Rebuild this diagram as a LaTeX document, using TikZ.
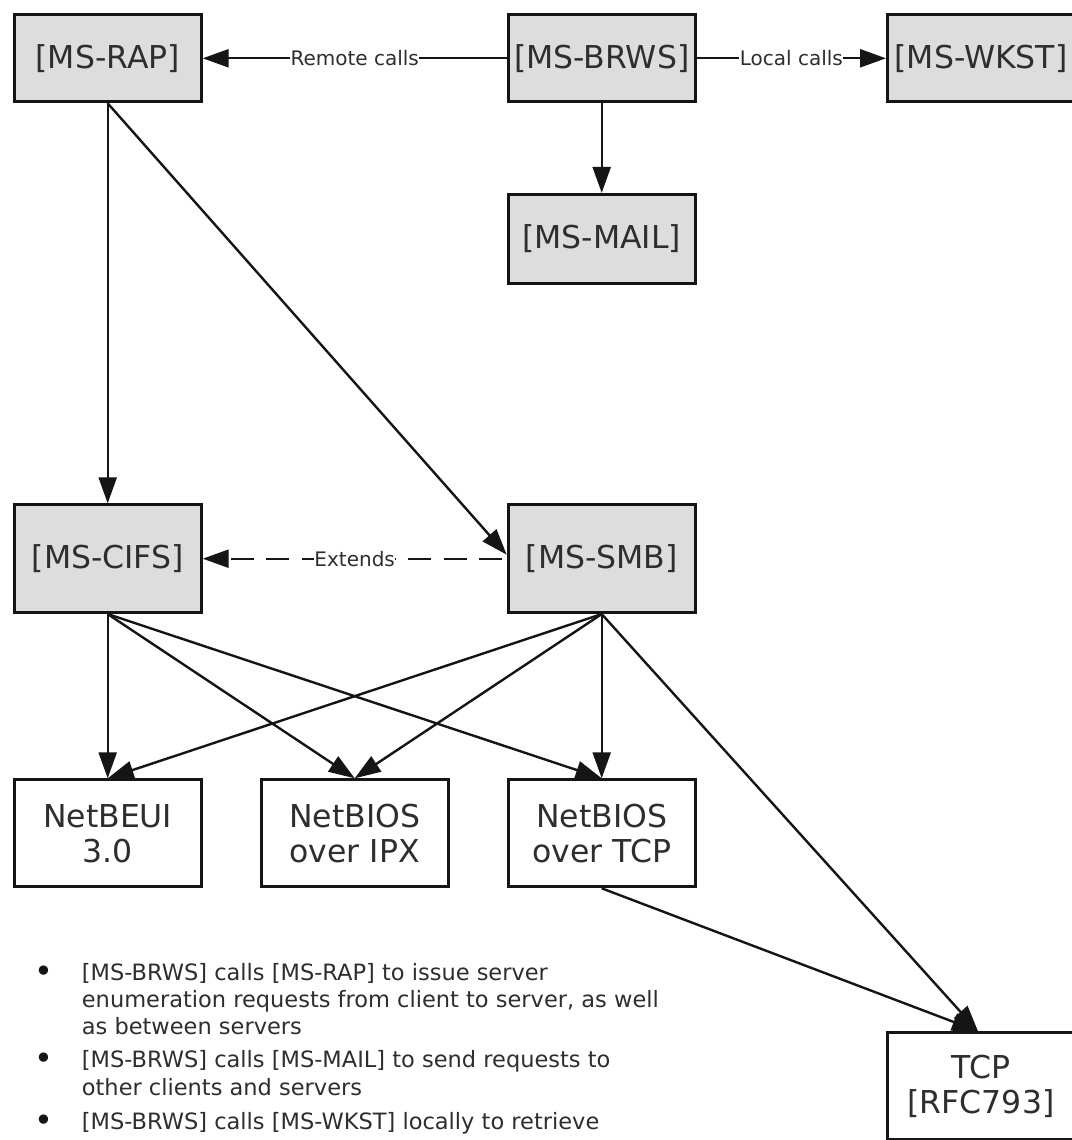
\documentclass[tikz,border=0pt]{standalone}
\usepackage{fontspec}
\setmainfont{DejaVu Sans}
\usetikzlibrary{arrows.meta}
\definecolor{boxfill}{HTML}{DDDDDD}
\definecolor{ink}{HTML}{151515}
\definecolor{txt}{HTML}{2E2E2E}
\begin{document}
\begin{tikzpicture}[x=1pt,y=-1pt,
  box/.style={draw=ink, line width=3pt, minimum width=187pt, text=txt, align=center, inner sep=0pt, font=\fontsize{31.5}{35}\selectfont},
  gbox/.style={box, fill=boxfill},
  wbox/.style={box, fill=white},
  conn/.style={draw=ink, line width=2.4pt, -{Triangle[length=26pt,width=18pt]}},
  lbl/.style={fill=white, inner sep=0.5pt, text=txt, font=\fontsize{20}{20}\selectfont},
  btxt/.style={anchor=base west, inner sep=0pt, text=txt, font=\fontsize{22.5}{27}\selectfont},
  bdot/.style={inner sep=0pt, text=ink, font=\fontsize{32}{32}\selectfont}]

\useasboundingbox (0,0) rectangle (1071,1140);
\fill[white] (0,0) rectangle (1071,1140);

\node[gbox, minimum height=87pt] (rap) at (107.7,58.3) {[MS-RAP]};
\node[gbox, minimum height=87pt] (brws) at (601.7,58.3) {[MS-BRWS]};
\node[gbox, minimum height=87pt] (wkst) at (981,58.3) {[MS-WKST]};
\node[gbox, minimum height=89pt] (mail) at (601.7,238.9) {[MS-MAIL]};
\node[gbox, minimum height=107.7pt] (cifs) at (107.7,558.7) {[MS-CIFS]};
\node[gbox, minimum height=107.7pt] (smb) at (601.7,558.7) {[MS-SMB]};
\node[wbox, minimum height=107pt] (beui) at (107.7,833.3) {NetBEUI\\3.0};
\node[wbox, minimum height=107pt] (ipx) at (354.7,833.3) {NetBIOS\\over IPX};
\node[wbox, minimum height=107pt] (nbt) at (601.7,833.3) {NetBIOS\\over TCP};
\node[wbox, minimum height=107pt] (tcp) at (981,1086.2) {TCP\\{}[RFC793]};

\draw[conn] (brws.west) -- node[lbl] (lremote) {Remote calls} (rap.east);
\draw[conn] (brws.east) -- node[lbl] (llocal) {Local calls} (wkst.west);
\draw[conn] (brws.south) -- (mail.north);
\draw[conn] (rap.south) -- (cifs.north);
\draw[conn] (rap.south) -- ([yshift=4pt]smb.west);
\draw[conn, dash pattern=on 23pt off 12.5pt, dash phase=31pt] (smb.west) -- node[lbl] (lext) {Extends} (cifs.east);
\draw[conn] (cifs.south) -- (beui.north);
\draw[conn] (cifs.south) -- (ipx.north);
\draw[conn] (cifs.south) -- (nbt.north);
\draw[conn] (smb.south) -- (beui.north);
\draw[conn] (smb.south) -- (ipx.north);
\draw[conn] (smb.south) -- (nbt.north);
\draw[conn] (smb.south) -- ([xshift=-3pt]tcp.north);
\draw[conn] (nbt.south) -- ([xshift=-3pt]tcp.north);

\node[bdot] (d1) at (43.5,974) {•};
\node[btxt] (t1a) at (81.7,980) {[MS-BRWS] calls [MS-RAP] to issue server};
\node[btxt] (t1b) at (81.7,1007) {enumeration requests from client to server, as well};
\node[btxt] (t1c) at (81.7,1034) {as between servers};
\node[bdot] (d2) at (43.5,1061) {•};
\node[btxt] (t2a) at (81.7,1067) {[MS-BRWS] calls [MS-MAIL] to send requests to};
\node[btxt] (t2b) at (81.7,1095) {other clients and servers};
\node[bdot] (d3) at (43.5,1123) {•};
\node[btxt] (t3a) at (81.7,1129) {[MS-BRWS] calls [MS-WKST] locally to retrieve};
\end{tikzpicture}
\end{document}
